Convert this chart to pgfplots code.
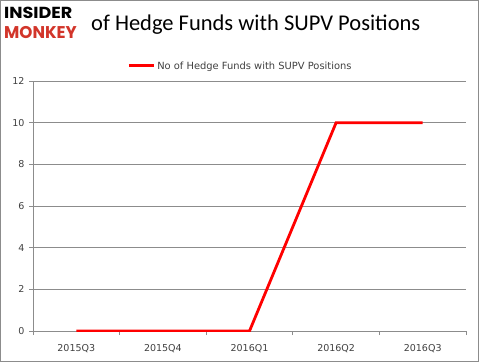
\documentclass[border=0pt]{standalone}
\usepackage{pgfplots}
\pgfplotsset{compat=1.18}
\usepackage{fontspec}
\setmainfont{DejaVu Sans}
\newfontfamily\titlefont{Carlito}
\newfontfamily\logofont{Poppins}
\definecolor{gridgray}{HTML}{8C8C8C}
\definecolor{txtgray}{HTML}{404040}
\definecolor{logored}{HTML}{D2352A}
\begin{document}
\begin{tikzpicture}[x=1bp,y=1bp]
\draw[gridgray, line width=1bp] (0.5,0.5) rectangle (478.5,361.5);
\node[anchor=base west, inner sep=0pt] at (91,332) {\titlefont\fontsize{22.5bp}{26bp}\selectfont of Hedge Funds with SUPV Positions};
\node[anchor=north west, inner sep=0pt, xscale=1.1, font=\logofont\bfseries\fontsize{16bp}{16bp}\selectfont] at (4,355) {INSIDER};
\node[anchor=north west, inner sep=0pt, xscale=0.98, text=logored, font=\logofont\bfseries\fontsize{17bp}{17bp}\selectfont] at (4,336) {MONKEY};
\begin{axis}[
  at={(33bp,31bp)}, anchor=south west,
  scale only axis, width=433bp, height=250bp,
  xmin=-0.5, xmax=4.5, ymin=0, ymax=12,
  xtick={0,1,2,3,4},
  xticklabels={2015Q3,2015Q4,2016Q1,2016Q2,2016Q3},
  minor xtick={-0.5,0.5,1.5,2.5,3.5,4.5},
  ytick={0,2,4,6,8,10,12},
  axis x line*=bottom, axis y line*=left,
  axis line style={gridgray, line width=0.8bp, -},
  ymajorgrids, grid style={gridgray, line width=0.8bp},
  major x tick style={draw=none},
  minor x tick style={gridgray, line width=0.8bp},
  major y tick style={gridgray, line width=0.8bp},
  tick align=outside,
  major tick length=4bp, minor tick length=4bp,
  minor x grid style={draw=none},
  tick label style={font=\fontsize{9.5bp}{11bp}\selectfont, text=txtgray},
  /pgf/number format/assume math mode=true,
  xticklabel style={yshift=-6bp},
  yticklabel style={xshift=-1bp},
  legend style={at={(axis description cs:0.479,1.06)}, anchor=center, draw=none, fill=none,
    font=\fontsize{9.9bp}{11bp}\selectfont, text=txtgray, inner sep=0pt},
  legend image code/.code={\draw[#1, line width=3bp] (0bp,0bp) -- (25bp,0bp);},
]
\addplot[red, line width=2.8bp] coordinates {(0,0) (1,0) (2,0) (3,10) (4,10)};
\addlegendentry{No of Hedge Funds with SUPV Positions}
\end{axis}
\end{tikzpicture}
\end{document}
